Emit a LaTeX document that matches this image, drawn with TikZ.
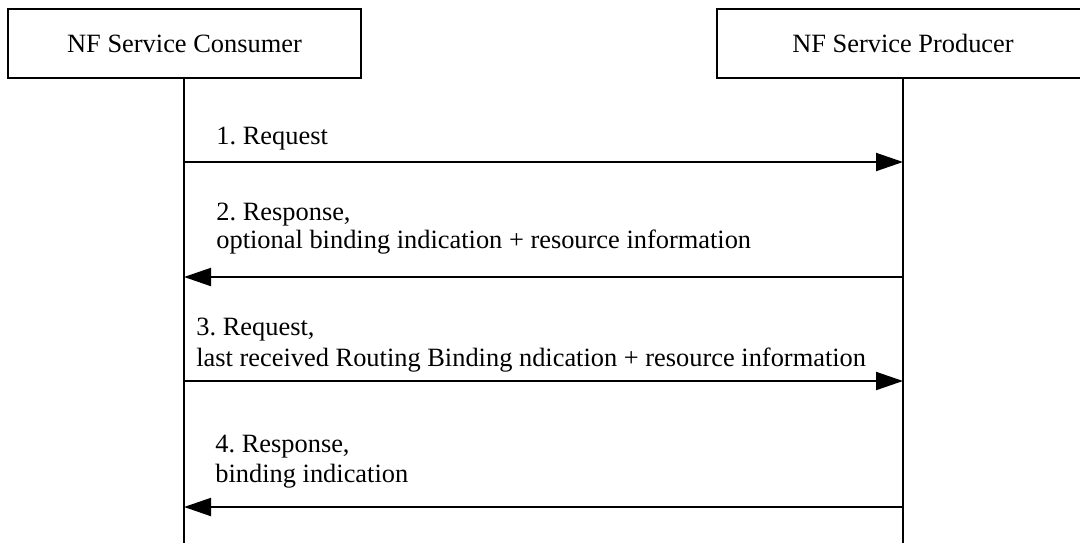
\documentclass[tikz,border=0pt]{standalone}
\usepackage{fontspec}
\setmainfont{Liberation Serif}
\usetikzlibrary{arrows.meta}
\frenchspacing
\begin{document}
\begin{tikzpicture}[x=0.5pt,y=-0.5pt,
  actor/.style={draw,line width=1pt,minimum height=34.5pt,inner sep=0,font=\fontsize{13.2}{15}\selectfont},
  msg/.style={line width=1pt,-{Triangle[length=13.5pt,width=9pt]}},
  lbl/.style={anchor=base west,inner sep=0,font=\fontsize{13.2}{15}\selectfont},
  life/.style={line width=1pt}]
\useasboundingbox (0,0) rectangle (1080,542);
\clip (0,0) rectangle (1080,542);
\node[actor,minimum width=176.5pt] (c) at (184.5,43.5) {NF Service Consumer};
\node[actor,minimum width=186pt] (p) at (903,43.5) {NF Service Producer};
\coordinate (cb) at (184,545);
\coordinate (pb) at (903,545);
\draw[life] (c.south -| cb) -- (cb);
\draw[life] (p.south -| pb) -- (pb);
% message coordinates
\coordinate (c1) at (184,162); \coordinate (p1) at (903,162);
\coordinate (c2) at (184,277); \coordinate (p2) at (903,277);
\coordinate (c3) at (184,381); \coordinate (p3) at (903,381);
\coordinate (c4) at (184,507); \coordinate (p4) at (903,507);
\draw[msg] (c1) -- (p1);
\draw[msg] (p2) -- (c2);
\draw[msg] (c3) -- (p3);
\draw[msg] (p4) -- (c4);
\node[lbl] (l1) at (216,144) {1. Request};
\node[lbl] (l2a) at (216,220) {2. Response,};
\node[lbl] (l2b) at (216,248) {optional binding indication + resource information};
\node[lbl] (l3a) at (196,335) {3. Request,};
\node[lbl] (l3b) at (196,366) {last received Routing Binding ndication + resource information};
\node[lbl] (l4a) at (215,452) {4. Response,};
\node[lbl] (l4b) at (215,482) {binding indication};
\end{tikzpicture}
\end{document}
